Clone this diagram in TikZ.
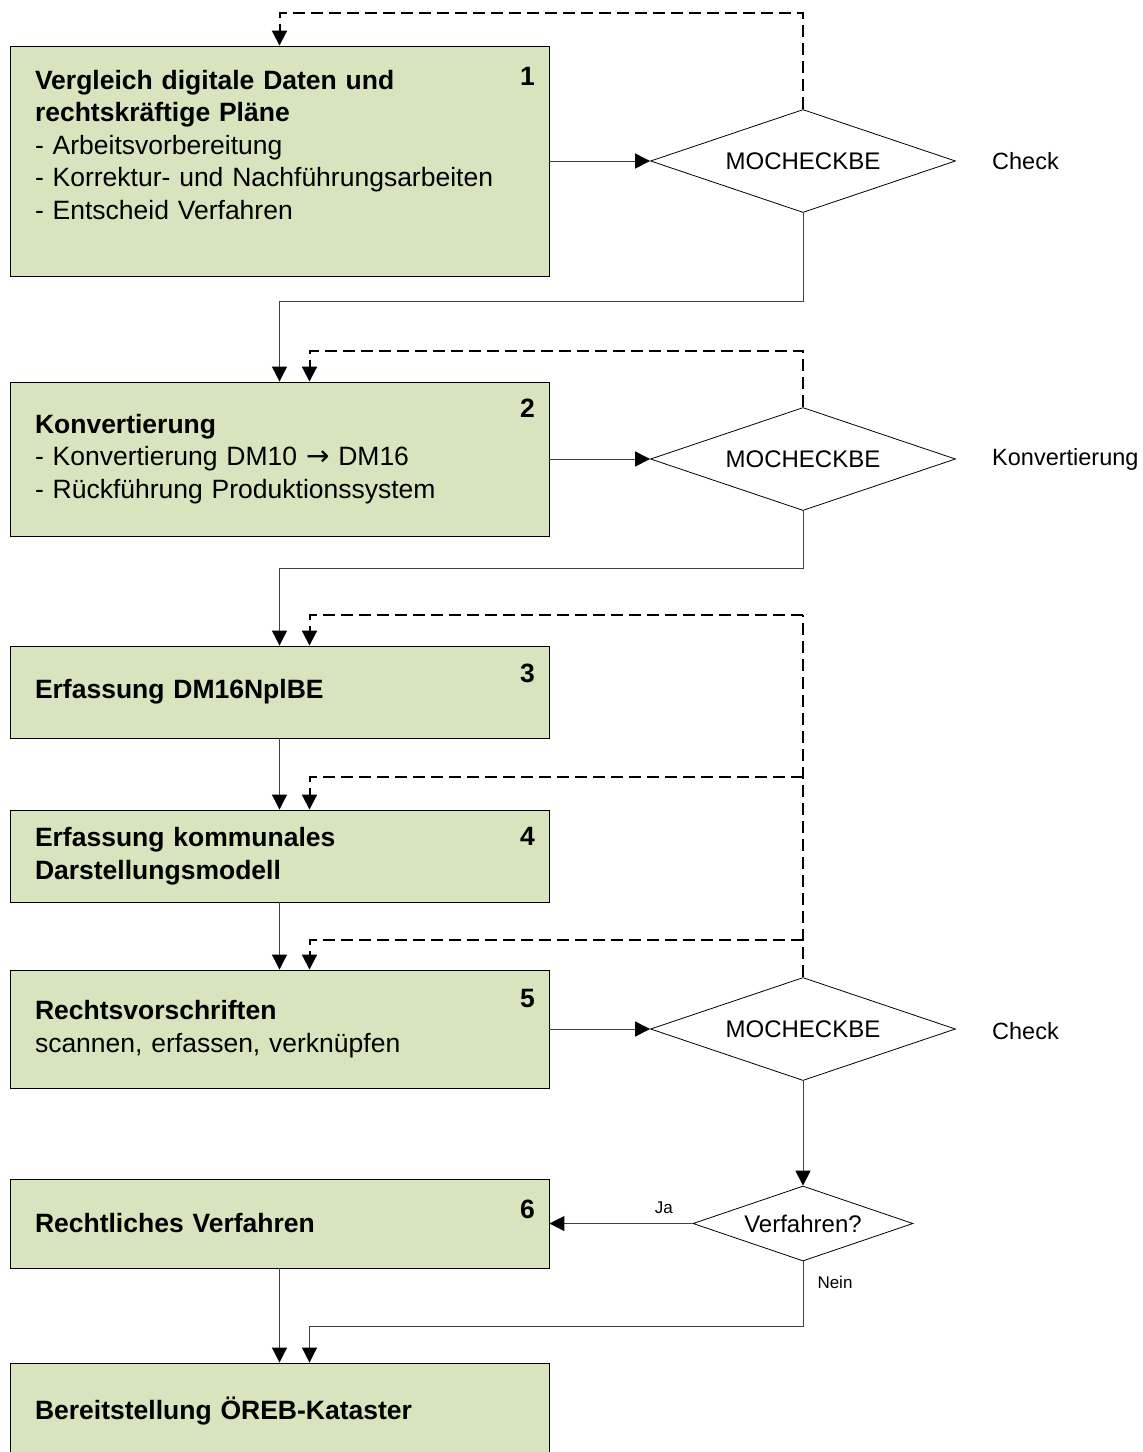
\documentclass[tikz,border=0pt]{standalone}
\usepackage{fontspec}
\setmainfont{Liberation Sans}
\newfontfamily\arrowfont{DejaVu Sans}
\usetikzlibrary{arrows.meta,shapes.geometric,calc}
\definecolor{stepfill}{HTML}{D7E4BD}
\definecolor{linegray}{HTML}{404040}

\begin{document}
\begin{tikzpicture}[x=1pt,y=-1pt,
  stepbox/.style={draw=black, line width=0.9pt, fill=stepfill,
    text width=489pt, minimum width=539pt, inner xsep=25pt, inner ysep=0pt,
    align=left, font=\fontsize{26.5}{32.5}\selectfont},
  numlabel/.style={font=\fontsize{26.5}{30}\selectfont\bfseries, inner sep=0pt},
  decision/.style={draw=black, line width=0.8pt, diamond, aspect=3, inner sep=0pt,
    minimum width=305pt, minimum height=103pt, font=\fontsize{24}{28}\selectfont},
  sidelabel/.style={font=\fontsize{23.5}{28}\selectfont, anchor=west, inner sep=0pt},
  smalllabel/.style={font=\fontsize{17}{20}\selectfont, inner sep=0pt},
  conn/.style={draw=linegray, line width=1pt,
    -{Triangle[length=15pt,width=15pt,color=black]}},
  fbline/.style={draw=black, line width=2pt, dash pattern=on 12pt off 6pt},
  fb/.style={fbline, -{Triangle[length=15pt,width=15pt]}}
]
\useasboundingbox (0,0) rectangle (1143,1452);

% process steps
\node[stepbox, minimum height=230pt] (b1) at (279.5,161)
  {\textbf{Vergleich digitale Daten und}\\\textbf{rechtskräftige Pläne}\\- Arbeitsvorbereitung\\- Korrektur- und Nachführungsarbeiten\\- Entscheid Verfahren\\\mbox{}};
\node[stepbox, minimum height=154pt] (b2) at (279.5,459)
  {\textbf{Konvertierung}\\- Konvertierung DM10 {\arrowfont\fontsize{28}{28}\selectfont →} DM16\\- Rückführung Produktionssystem};
\node[stepbox, minimum height=92pt] (b3) at (279.5,692)
  {\textbf{Erfassung DM16NplBE}};
\node[stepbox, minimum height=92pt] (b4) at (279.5,856)
  {\textbf{Erfassung kommunales}\\\textbf{Darstellungsmodell}};
\node[stepbox, minimum height=118pt] (b5) at (279.5,1029)
  {\textbf{Rechtsvorschriften}\\scannen, erfassen, verknüpfen};
\node[stepbox, minimum height=89pt] (b6) at (279.5,1223.5)
  {\textbf{Rechtliches Verfahren}};
\node[stepbox, minimum height=96pt] (b7) at (279.5,1411)
  {\textbf{Bereitstellung ÖREB-Kataster}};

% step numbers
\node[numlabel] (n1) at ($(b1.north east)+(-22,31)$) {1};
\node[numlabel] (n2) at ($(b2.north east)+(-22,27)$) {2};
\node[numlabel] (n3) at ($(b3.north east)+(-22,28)$) {3};
\node[numlabel] (n4) at ($(b4.north east)+(-22,27)$) {4};
\node[numlabel] (n5) at ($(b5.north east)+(-22,29)$) {5};
\node[numlabel] (n6) at ($(b6.north east)+(-22,31)$) {6};

% checks and decision
\node[decision] (d1) at (803,161) {MOCHECKBE};
\node[decision] (d2) at (803,459) {MOCHECKBE};
\node[decision] (d3) at (803,1029) {MOCHECKBE};
\node[decision, minimum width=220pt, minimum height=75pt] (d4) at (803,1223.5) {Verfahren?};

\node[sidelabel] (c1) at (992,161) {Check};
\node[sidelabel] (c2) at (992,459) {Konvertierung};
\node[sidelabel] (c3) at (992,1031) {Check};

% main flow
\draw[conn] (b1.east) -- (d1.west);
\draw[conn] (d1.south) -- ++(0,89) -| (b2.north);
\draw[conn] (b2.east) -- (d2.west);
\draw[conn] (d2.south) -- ++(0,58) -| (b3.north);
\draw[conn] (b3.south) -- (b4.north);
\draw[conn] (b4.south) -- (b5.north);
\draw[conn] (b5.east) -- (d3.west);
\draw[conn] (d3.south) -- (d4.north);
\draw[conn] (d4.west) -- node[smalllabel, above=9pt, pos=0.2] (ja) {Ja} (b6.east);
\draw[conn] (d4.south) -- node[smalllabel, right=14pt, pos=0.32] (nein) {Nein} ++(0,65) -| ($(b7.north)+(30,0)$);
\draw[conn] (b6.south) -- (b7.north);

% feedback loops
\draw[fb] (d1.north) -- ++(0,-96) -| (b1.north);
\draw[fb] (d2.north) -- ++(0,-56) -| ($(b2.north)+(30,0)$);
\coordinate (j3) at (803,615);
\coordinate (j4) at (803,777);
\coordinate (j5) at (803,940);
\draw[fbline] (d3.north) -- (j3);
\draw[fb] (j3) -| ($(b3.north)+(30,0)$);
\draw[fb] (j4) -| ($(b4.north)+(30,0)$);
\draw[fb] (j5) -| ($(b5.north)+(30,0)$);
\end{tikzpicture}
\end{document}
